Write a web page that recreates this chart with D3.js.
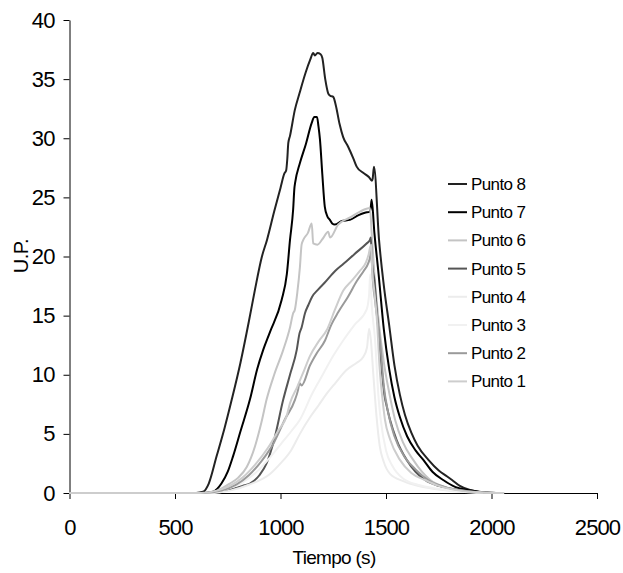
<!DOCTYPE html>
<html>
<head>
<meta charset="utf-8">
<script src="https://cdn.jsdelivr.net/npm/d3@7"></script>
<style>
  body { margin: 0; background: #fff; }
  svg { display: block; font-family: Arial, "Liberation Sans", sans-serif; }
</style>
</head>
<body>
<div id="chart"></div>
<script>
// [tiempo (s), U.P.]
const punto8 = [[0,0],[600,0],[633,0.1],[660,0.8],[697,3.1],[735,5.5],[769,7.9],[810,11],[850,14.5],[879,17.2],[912,20],[936,21.4],[970,23.8],[1000,25.8],[1018,27],[1027,27.3],[1032,28.2],[1037,29.6],[1045,30.2],[1068,32.4],[1090,33.8],[1120,35.6],[1140,36.6],[1155,37.2],[1163,37.0],[1175,37.2],[1190,37.1],[1198,36.8],[1212,35],[1226,33.8],[1235,33.6],[1250,33.5],[1262,32.8],[1280,31.2],[1297,30.1],[1320,29.3],[1345,28.3],[1361,27.6],[1390,27.1],[1420,26.7],[1433,26.4],[1437,26.6],[1443,27.6],[1467,21.4],[1490,17.5],[1515,14.2],[1540,10.8],[1566,8.3],[1590,6.6],[1620,5.1],[1650,4.0],[1701,2.8],[1750,1.9],[1790,1.4],[1813,1.1],[1850,0.6],[1898,0.25],[1950,0.08],[2000,0.02],[2050,0]];
const punto7 = [[0,0],[640,0],[680,0.1],[720,0.8],[750,1.8],[775,3.1],[810,5.2],[855,7.9],[890,10.5],[918,12.1],[950,13.6],[1005,16.3],[1030,18.5],[1045,21.4],[1060,24],[1066,25.8],[1069,26.2],[1092,27.9],[1120,29.5],[1148,31.3],[1160,31.8],[1173,31.8],[1180,31],[1187,29.9],[1198,27],[1210,24.2],[1222,23.4],[1234,23.1],[1245,22.8],[1258,22.7],[1290,23],[1329,23.1],[1370,23.5],[1400,23.7],[1424,23.8],[1428,24.2],[1432,24.8],[1445,22],[1465,18.5],[1490,13.8],[1515,10.5],[1540,8.1],[1566,6.4],[1600,4.8],[1640,3.6],[1677,2.8],[1720,1.8],[1771,1.1],[1830,0.5],[1898,0.22],[1950,0.06],[2000,0.01],[2040,0]];
const punto6 = [[0,0],[650,0],[700,0.2],[760,0.8],[800,1.3],[840,2.2],[880,4],[910,6],[934,7.9],[970,10],[1013,12.1],[1045,14],[1060,15.2],[1068,15.5],[1080,17],[1092,19.1],[1100,21],[1108,21.4],[1130,22],[1148,22.8],[1155,21.1],[1175,21],[1200,21.5],[1226,22.1],[1235,21.6],[1273,22.7],[1330,23.3],[1377,23.8],[1424,24.1],[1432,22],[1445,18.5],[1465,14.6],[1490,11],[1515,8.5],[1543,6.2],[1580,4.3],[1629,2.8],[1670,1.8],[1710,1.1],[1780,0.5],[1850,0.2],[1950,0.05],[2030,0]];
const punto5 = [[0,0],[650,0],[700,0.1],[760,0.3],[820,0.6],[855,0.8],[900,1.5],[934,2.5],[970,4.5],[1013,7.9],[1045,10],[1077,12.1],[1090,13.5],[1100,14],[1116,15.2],[1132,15.9],[1150,16.6],[1178,17.2],[1210,17.8],[1260,18.8],[1300,19.4],[1350,20.2],[1408,21.1],[1424,21.4],[1428,21.6],[1433,19.5],[1445,18],[1458,15],[1470,12.5],[1485,9.5],[1495,8],[1500,7.6],[1519,6.2],[1550,4.5],[1598,2.8],[1640,1.8],[1685,1.1],[1750,0.6],[1850,0.25],[1950,0.05],[2020,0]];
const punto4 = [[0,0],[680,0],[760,0.2],[850,0.7],[950,1.6],[1000,2.5],[1050,3.6],[1092,5],[1140,6.4],[1180,7.4],[1219,8.4],[1260,9.3],[1313,10.4],[1360,11],[1392,11.5],[1410,12.3],[1420,13.9],[1428,13],[1440,10],[1455,6.5],[1470,4],[1490,2.6],[1520,1.6],[1582,1],[1650,0.6],[1750,0.3],[1850,0.1],[1960,0]];
const punto3 = [[0,0],[660,0],[740,0.3],[820,0.9],[900,2],[950,3],[1000,4.1],[1050,5.2],[1092,6.2],[1150,8.4],[1200,10],[1250,11.6],[1297,12.9],[1350,14.2],[1408,15.5],[1420,16.8],[1425,18.5],[1432,16],[1448,13],[1465,8],[1475,6.2],[1500,3.6],[1530,2.3],[1582,1.2],[1650,0.7],[1750,0.35],[1850,0.12],[2000,0]];
const punto2 = [[0,0],[640,0],[720,0.2],[790,0.7],[850,1.5],[910,2.7],[970,4.3],[1020,6.2],[1069,7.9],[1083,8.7],[1090,9.3],[1100,9.1],[1140,10.8],[1171,11.8],[1211,12.9],[1240,14.2],[1274,15.3],[1320,16.6],[1361,17.9],[1395,18.8],[1415,19.4],[1425,20],[1430,21],[1436,18.5],[1450,16],[1471,13],[1490,9],[1510,6.8],[1540,4.8],[1590,3],[1640,2],[1700,1.1],[1780,0.5],[1870,0.2],[2000,0.02],[2060,0]];
const punto1 = [[0,0],[620,0],[700,0.2],[760,0.6],[820,1.3],[880,2.4],[940,3.8],[990,5.3],[1029,6.5],[1045,7.6],[1080,9],[1108,10.2],[1140,11.6],[1180,12.8],[1220,13.8],[1258,15.5],[1297,17.1],[1340,18],[1377,18.8],[1405,19.5],[1418,20.2],[1425,20.8],[1430,21],[1434,19],[1445,17],[1457,14.6],[1470,10.5],[1483,8],[1495,6.2],[1520,4.5],[1566,2.8],[1620,1.7],[1685,1.1],[1750,0.6],[1850,0.2],[1950,0.05],[2060,0]];

const seriesNames = ["Punto 8", "Punto 7", "Punto 6", "Punto 5", "Punto 4", "Punto 3", "Punto 2", "Punto 1"];
const seriesData = [punto8, punto7, punto6, punto5, punto4, punto3, punto2, punto1];
const seriesColors = ["#222222", "#000000", "#c4c4c4", "#555555", "#ececec", "#f1f1f1", "#9a9a9a", "#cdcdcd"];

const tiempoTicks = [0, 500, 1000, 1500, 2000, 2500];
const upTicks = [0, 5, 10, 15, 20, 25, 30, 35, 40];

const width = 623, height = 573;
const plotLeft = 69.5, plotRight = 597, plotTop = 20, plotBottom = 493;

const svg = d3.select("#chart").append("svg")
    .attr("width", width)
    .attr("height", height);

const x = d3.scaleLinear().domain([0, 2500]).range([plotLeft, plotRight]);
const y = d3.scaleLinear().domain([0, 40]).range([plotBottom, plotTop]);

//axes
const yAxis = svg.append("g")
    .attr("transform", `translate(${plotLeft},0)`)
    .call(d3.axisLeft(y).tickValues(upTicks).tickFormat(d3.format("d"))
        .tickSize(6).tickSizeOuter(0).tickPadding(9));
const xAxis = svg.append("g")
    .attr("transform", `translate(0,${plotBottom})`)
    .call(d3.axisBottom(x).tickValues(tiempoTicks).tickFormat(d3.format("d"))
        .tickSize(6).tickSizeOuter(0).tickPadding(20));

[xAxis, yAxis].forEach(ax => {
    ax.selectAll("path, line").attr("stroke", "#000").attr("stroke-width", 1);
    ax.selectAll("text")
        .attr("fill", "#000")
        .style("font-size", "22px")
        .style("letter-spacing", "-0.9px")
        .style("font-family", "Arial, 'Liberation Sans', sans-serif");
});

//axis titles
svg.append("text")
    .attr("x", 334)
    .attr("y", 564)
    .attr("text-anchor", "middle")
    .style("font-size", "19px")
    .style("letter-spacing", "-0.7px")
    .text("Tiempo (s)");

svg.append("text")
    .attr("transform", "translate(28,256) rotate(-90)")
    .attr("text-anchor", "middle")
    .style("font-size", "20px")
    .style("letter-spacing", "-0.5px")
    .text("U.P.");

//lines
const line = d3.line()
    .curve(d3.curveMonotoneX)
    .x(d => x(d[0]))
    .y(d => y(d[1]));

seriesData.forEach((data, i) => {
    svg.append("path")
        .datum(data)
        .attr("fill", "none")
        .attr("stroke", seriesColors[i])
        .attr("stroke-width", 2)
        .attr("stroke-linejoin", "round")
        .attr("d", line);
});

//legend
const legend = svg.append("g").attr("transform", "translate(448,184)");
seriesNames.forEach((name, i) => {
    const g = legend.append("g").attr("transform", `translate(0,${i * 28.2})`);
    g.append("line")
        .attr("x1", 0).attr("x2", 19)
        .attr("y1", 0).attr("y2", 0)
        .attr("stroke", seriesColors[i])
        .attr("stroke-width", 2);
    g.append("text")
        .attr("x", 23)
        .attr("y", 6)
        .style("font-size", "17px")
        .style("letter-spacing", "-0.6px")
        .text(name);
});
</script>
</body>
</html>
